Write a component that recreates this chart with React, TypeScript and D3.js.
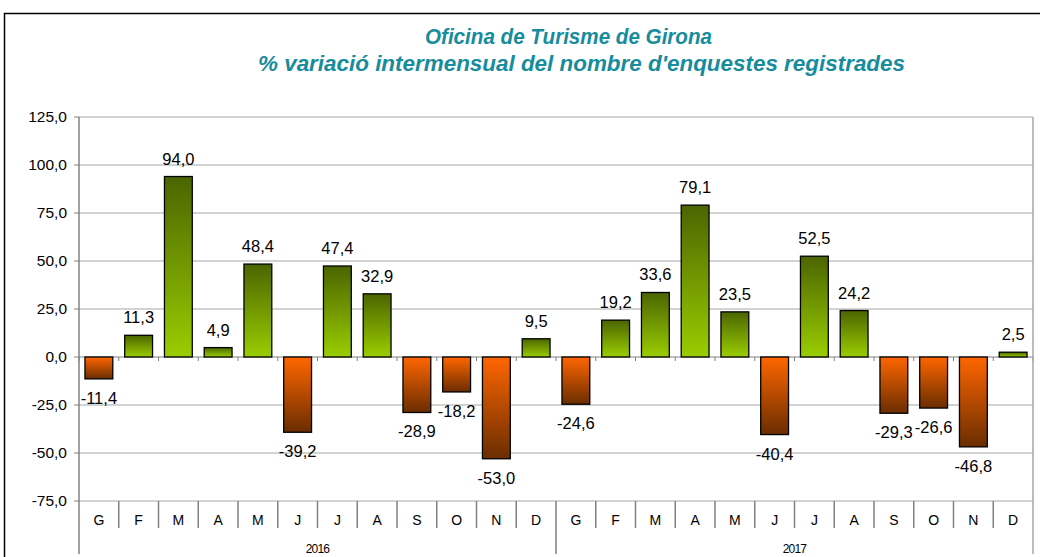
import React from "react";
import * as d3 from "d3";

const months = ["G","F","M","A","M","J","J","A","S","O","N","D","G","F","M","A","M","J","J","A","S","O","N","D"];
const years = ["2016", "2017"];
const values = [-11.4, 11.3, 94.0, 4.9, 48.4, -39.2, 47.4, 32.9, -28.9, -18.2, -53.0, 9.5,
  -24.6, 19.2, 33.6, 79.1, 23.5, -40.4, 52.5, 24.2, -29.3, -26.6, -46.8, 2.5];
const yTicks = [125, 100, 75, 50, 25, 0, -25, -50, -75];
const titleLines = ["Oficina de Turisme de Girona", "% variació intermensual del nombre d'enquestes registrades"];
const titleStarts = [425, 258];
const titleWidths = [287, 647];

export default function App() {
  const W = 1040, H = 557;
  const left = 79, right = 1033, top = 117, bottom = 501;
  const y = d3.scaleLinear().domain([-75, 125]).range([bottom, top]);
  const x = d3.scaleBand<number>().domain(d3.range(values.length)).range([left, right]).paddingInner(0.3).paddingOuter(0.15);
  const step = (right - left) / values.length;
  const fmt = (v: number) => v.toFixed(1).replace(".", ",");
  const font = "Arial, 'Liberation Sans', sans-serif";
  const y0 = y(0);
  return (
    <svg width={W} height={H} style={{ position: "absolute", left: 0, top: 0, background: "#fff" }} fontFamily={font}>
      <defs>
        <linearGradient id="gpos" x1="0" y1="0" x2="0" y2="1">
          <stop offset="0" stopColor="#4b6500" />
          <stop offset="1" stopColor="#9acd00" />
        </linearGradient>
        <linearGradient id="gneg" x1="0" y1="0" x2="0" y2="1">
          <stop offset="0" stopColor="#ff6600" />
          <stop offset="1" stopColor="#6a2d00" />
        </linearGradient>
      </defs>
      <rect x={4.5} y={13.5} width={1100} height={600} fill="#fff" stroke="#000" strokeWidth={1.5} />
      {titleLines.map((t, i) => (
        <text key={i} x={titleStarts[i]} y={44 + i * 27} textLength={titleWidths[i]} lengthAdjust="spacingAndGlyphs" fontSize={22} fontWeight="bold" fontStyle="italic" fill="#168c9c">{t}</text>
      ))}
      {yTicks.map((t) => (
        <g key={t}>
          <line x1={left} x2={right} y1={y(t)} y2={y(t)} stroke={t === 0 ? "#808080" : "#a6a6a6"} strokeWidth={1} />
          <line x1={left - 5} x2={left} y1={y(t)} y2={y(t)} stroke="#808080" />
          <text x={67} y={y(t) + 5} textAnchor="end" fontSize={15.5} fill="#000">{fmt(t)}</text>
        </g>
      ))}
      {values.map((v, i) => {
        const bx = x(i)!;
        const bw = x.bandwidth();
        const yt = y(Math.max(v, 0));
        const yb = y(Math.min(v, 0));
        return (
          <g key={i}>
            <rect x={bx} y={yt} width={bw} height={yb - yt} fill={v >= 0 ? "url(#gpos)" : "url(#gneg)"} stroke="#000" strokeWidth={1.3} />
            <text x={bx + bw / 2} y={v >= 0 ? yt - 12 : yb + 25} textAnchor="middle" fontSize={16.5} fill="#000">{fmt(v)}</text>
          </g>
        );
      })}
      {d3.range(values.length + 1).map((i) => (
        <line key={"zt" + i} x1={left + i * step} x2={left + i * step} y1={y0} y2={y0 + 4} stroke="#808080" />
      ))}
      <line x1={left} x2={left} y1={top} y2={554} stroke="#808080" strokeWidth={1.5} />
      <line x1={right} x2={right} y1={top} y2={554} stroke="#a6a6a6" strokeWidth={1.5} />
      {d3.range(1, values.length).map((i) => (
        <line key={"ct" + i} x1={left + i * step} x2={left + i * step} y1={bottom} y2={i % 12 === 0 ? 554 : 528} stroke="#808080" strokeWidth={1.5} />
      ))}
      {months.map((m, i) => (
        <text key={"m" + i} x={left + (i + 0.5) * step} y={525} textAnchor="middle" fontSize={14} fill="#000">{m}</text>
      ))}
      {years.map((yr, i) => (
        <text key={yr} x={left + (i * 12 + 6) * step} y={553} textAnchor="middle" fontSize={12} letterSpacing={-0.8} fill="#000">{yr}</text>
      ))}
    </svg>
  );
}
